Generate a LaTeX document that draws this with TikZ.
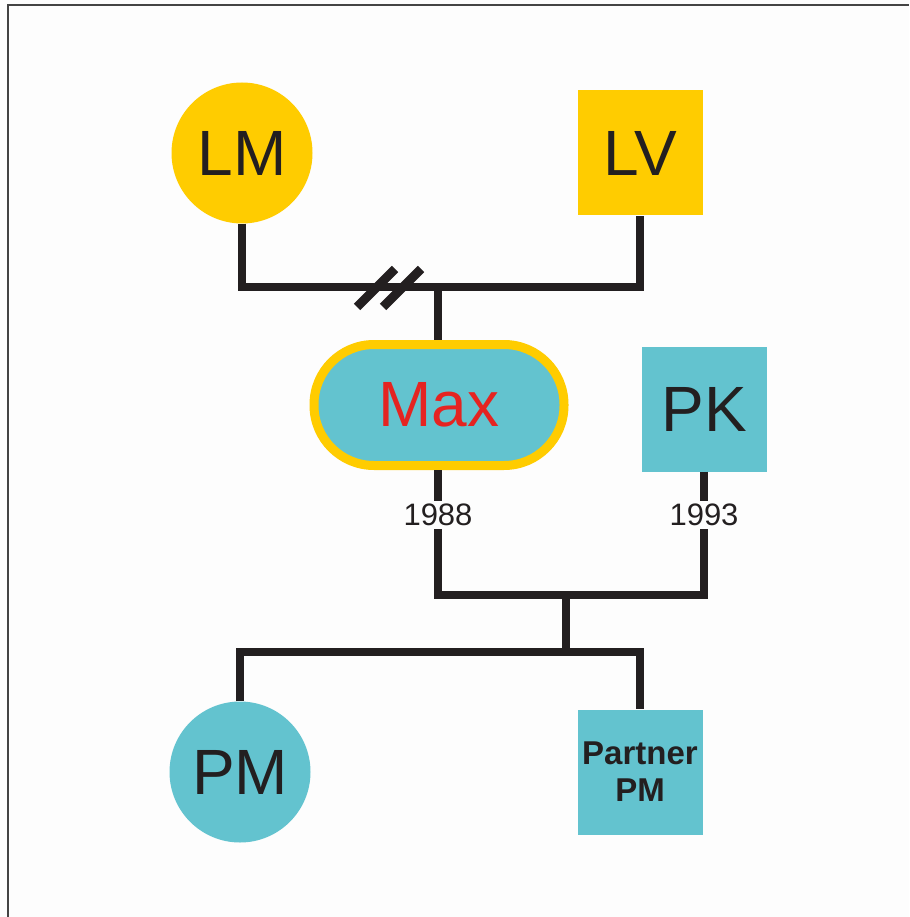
\documentclass[tikz,border=0pt]{standalone}
\usepackage{fontspec}
\setmainfont{Liberation Sans}
\definecolor{gold}{HTML}{FFCC00}
\definecolor{teal}{HTML}{63C3CF}
\definecolor{ink}{HTML}{231F20}
\definecolor{bg}{HTML}{FDFDFD}
\definecolor{frame}{HTML}{444444}
\definecolor{maxred}{HTML}{E52421}
\begin{document}
\begin{tikzpicture}[x=1pt,y=-1pt,
  conn/.style={draw=ink,line width=8pt,line join=miter,line cap=butt},
  big/.style={font=\fontsize{64}{64}\selectfont,text=ink},
  circ/.style={circle,minimum size=141pt,inner sep=0pt,big},
  sq/.style={rectangle,minimum size=125pt,inner sep=0pt,big},
  yearlbl/.style={fill=bg,inner sep=3pt,font=\fontsize{31}{31}\selectfont,text=ink}]
\useasboundingbox (0,0) rectangle (909,917);
\fill[bg] (0,0) rectangle (909,917);
\draw[frame,line width=2pt] (8,917) -- (8,5) -- (909,5);
% nodes
\node[circ,fill=gold] (LM) at (242,153) {LM};
\node[sq,fill=gold] (LV) at (640,153) {LV};
\node[rectangle,rounded corners=60pt,minimum width=250pt,minimum height=121pt,
      fill=teal,draw=gold,line width=9pt,big,text=maxred] (Max) at (439,405) {Max};
\node[sq,fill=teal] (PK) at (704,409) {PK};
\node[circ,fill=teal] (PM) at (240,772) {PM};
\node[sq,fill=teal,align=center,font=\fontsize{33}{37}\selectfont\bfseries] (PPM) at (640,772) {Partner\\PM};
\node[yearlbl] (l1988) at (438,515) {1988};
\node[yearlbl] (l1993) at (704,515) {1993};
\coordinate (j1) at (438,287);
\coordinate (j2) at (566,595);
\coordinate (j3) at (566,652);
% connectors
\draw[conn] (LM) |- (j1) -| (LV);
\draw[conn] (j1) -- (j1 |- Max.north);
\draw[conn] (Max.south -| l1988) -- (l1988);
\draw[conn] (PK) -- (l1993);
\draw[conn] (l1988) |- (j2) -| (l1993);
\draw[conn] (j2) -- (j3);
\draw[conn] (PM) |- (j3) -| (PPM);
% divorce mark
\draw[ink,line width=9pt] (j1) ++(-81,20) -- ++(38,-38);
\draw[ink,line width=9pt] (j1) ++(-55,20) -- ++(38,-38);
\end{tikzpicture}
\end{document}
